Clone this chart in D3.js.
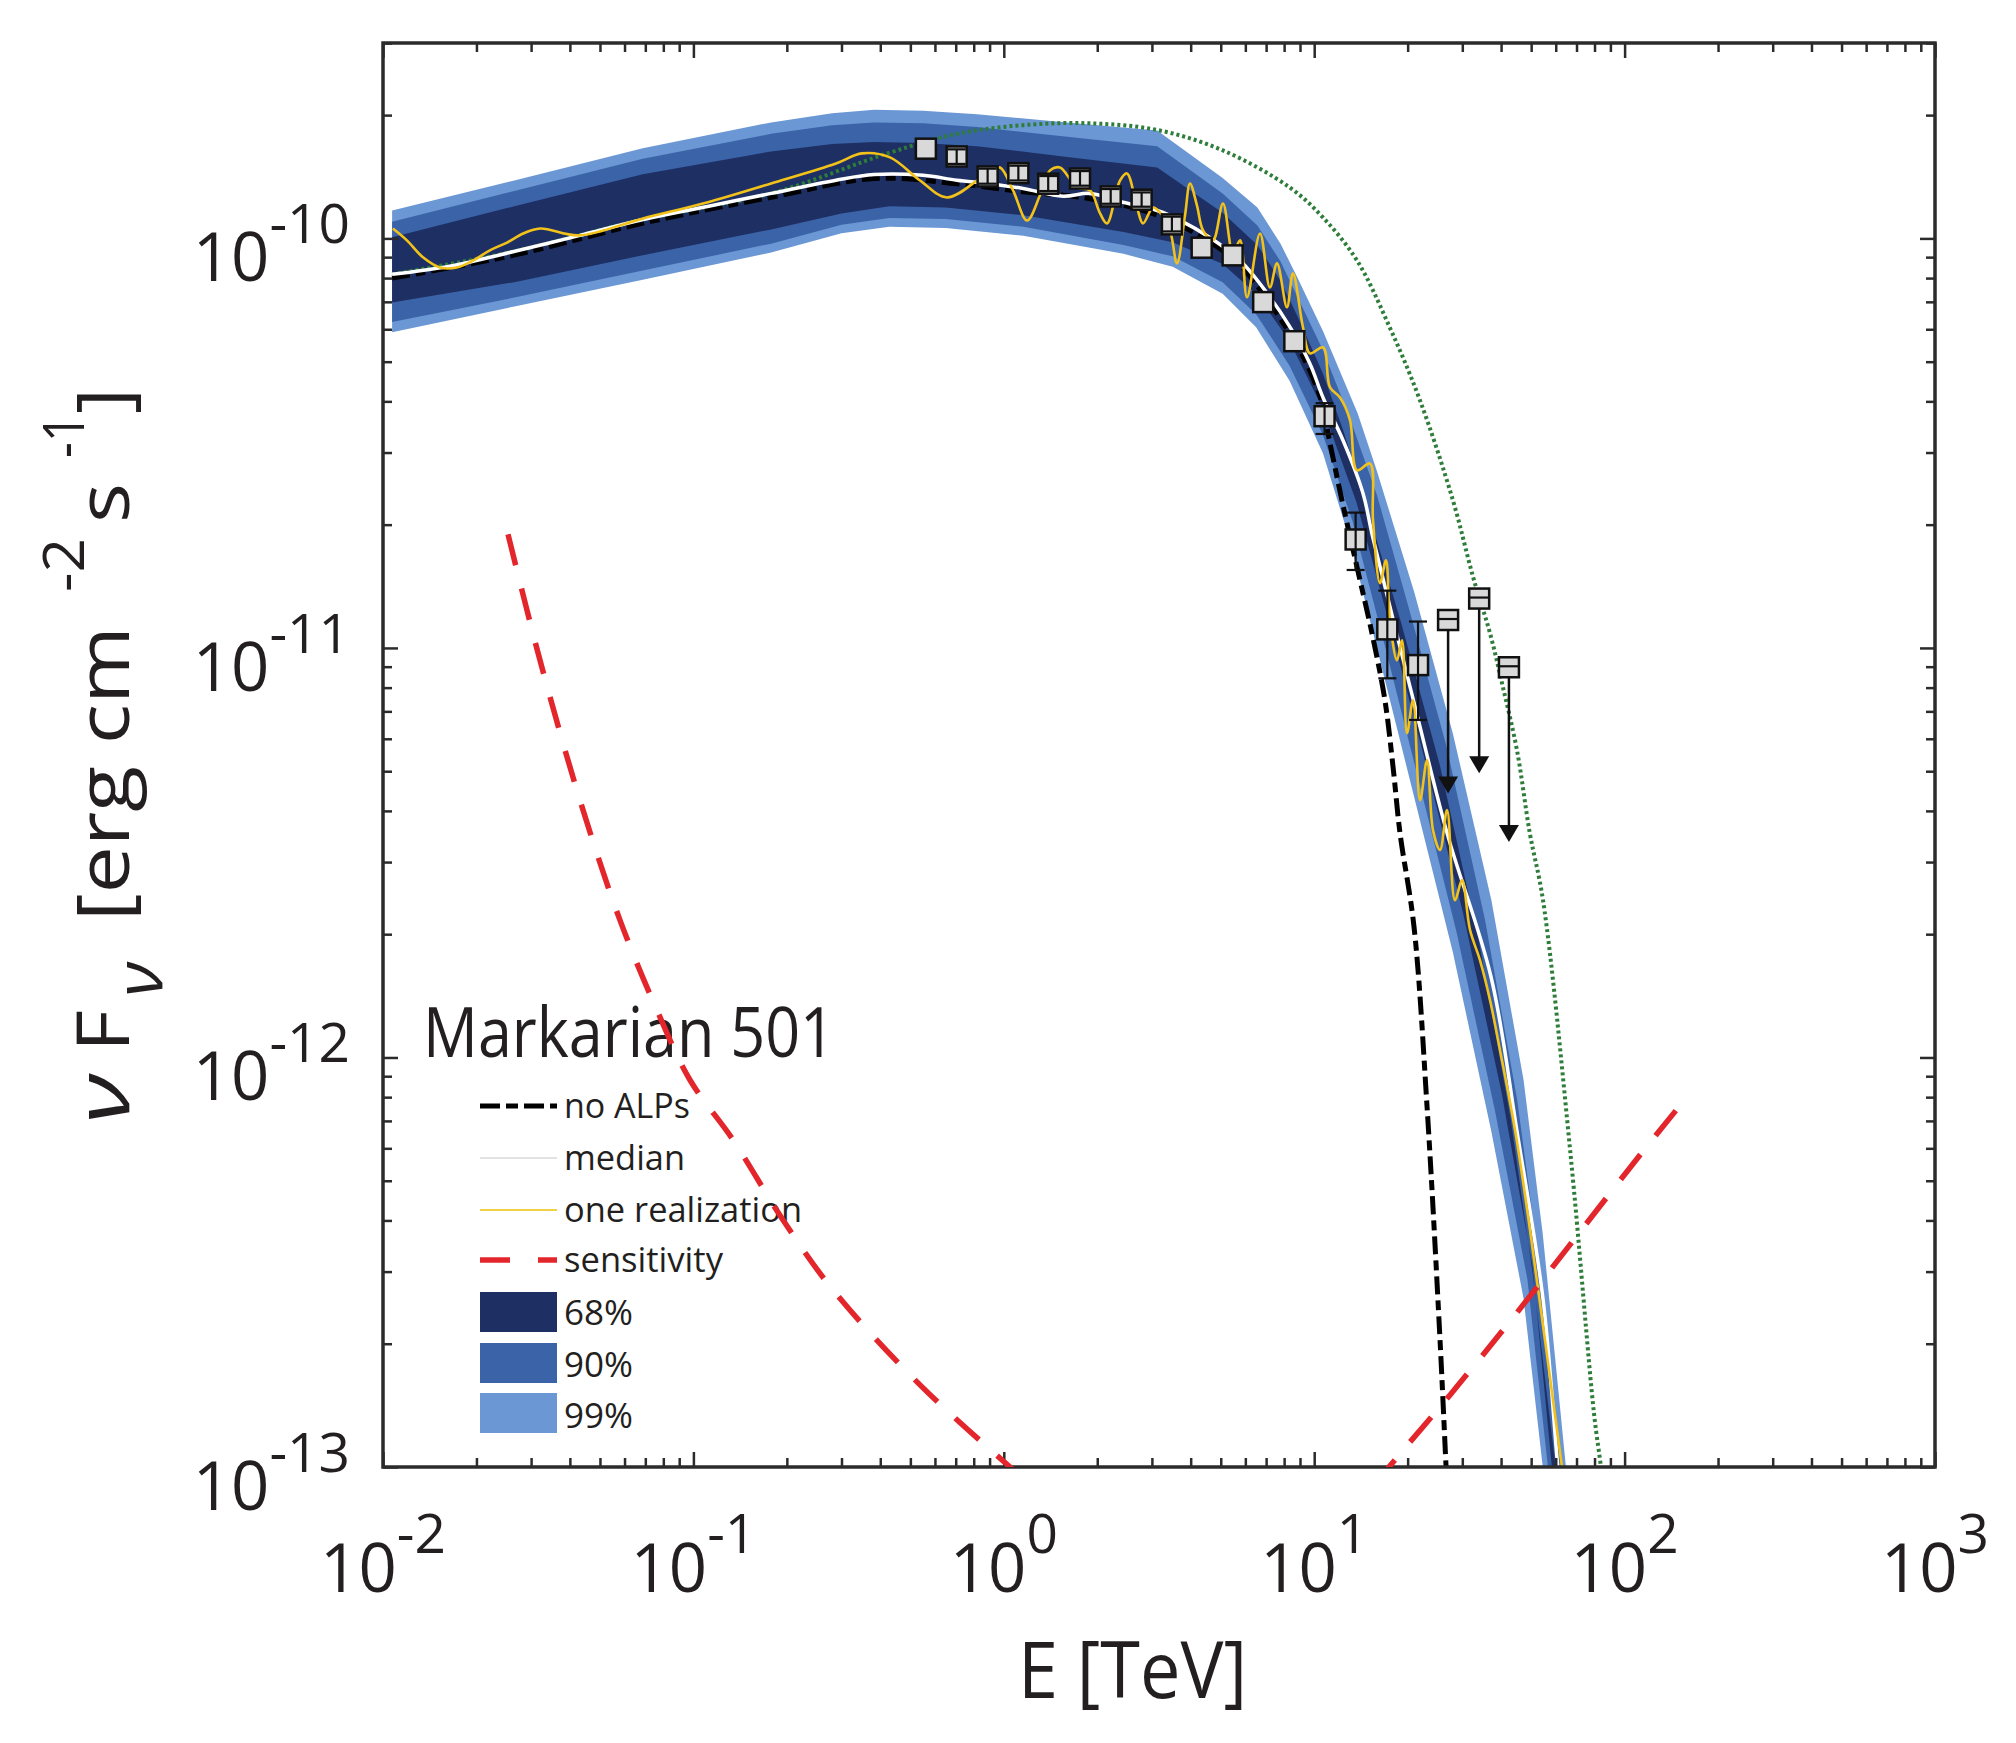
<!DOCTYPE html>
<html>
<head>
<meta charset="utf-8">
<script src="https://cdn.jsdelivr.net/npm/d3@7"></script>
<style>
body { margin: 0; background: #fff; }
svg text { font-family: "Open Sans", "Noto Sans", sans-serif; fill: #231f20; }
</style>
</head>
<body>
<div id="chart"></div>
<script>
// ---- data: [E (TeV), nuFnu (erg cm^-2 s^-1)] ----

// bands of the ALP realizations
var band99Upper = [[0.0107,1.17e-10],[0.0265,1.385e-10],[0.0687,1.66e-10],[0.178,1.92e-10],[0.28,2.02e-10],[0.382,2.06e-10],[0.55,2.05e-10],[0.82,2.01e-10],[1.6,1.92e-10],[3.12,1.835e-10],[5.07,1.405e-10],[6.56,1.19e-10],[7.79,9.71e-11],[8.81,8.05e-11],[10.67,5.94e-11],[13.8,3.74e-11],[15.93,2.70e-11],[21.0,1.37e-11],[27.96,6.19e-12],[37.23,2.42e-12],[47.26,8.81e-13],[54.5,3.70e-13],[61.1,1.555e-13],[64.7,1.0e-13],[65.5,9e-14]];
var band99Lower = [[0.0107,5.90e-11],[0.0265,6.82e-11],[0.0687,7.93e-11],[0.178,9.24e-11],[0.3,1.03e-10],[0.428,1.067e-10],[0.65,1.06e-10],[1.156,1.015e-10],[2.43,9.17e-11],[3.50,8.53e-11],[5.07,7.33e-11],[6.50,6.07e-11],[8.33,4.49e-11],[10.67,2.99e-11],[13.03,1.83e-11],[16.55,8.89e-12],[21.0,4.32e-12],[27.96,1.81e-12],[37.23,6.59e-13],[47.26,2.58e-13],[54.5,1.0e-13],[55,9e-14]];
var band90Upper = [[0.0107,1.098e-10],[0.0265,1.306e-10],[0.0687,1.565e-10],[0.178,1.80e-10],[0.28,1.89e-10],[0.382,1.92e-10],[0.55,1.91e-10],[0.82,1.87e-10],[1.6,1.77e-10],[3.12,1.68e-10],[5.07,1.288e-10],[6.56,1.075e-10],[7.79,8.78e-11],[8.81,7.22e-11],[10.67,5.33e-11],[13.03,3.64e-11],[15.93,2.36e-11],[20.03,1.276e-11],[26.66,5.76e-12],[35.5,2.17e-12],[45.06,7.90e-13],[52.48,3.32e-13],[58.85,1.446e-13],[62.3,1.0e-13],[63,9e-14]];
var band90Lower = [[0.0107,6.25e-11],[0.0265,7.17e-11],[0.0687,8.35e-11],[0.178,9.71e-11],[0.3,1.08e-10],[0.428,1.122e-10],[0.65,1.115e-10],[1.156,1.067e-10],[2.43,9.64e-11],[3.50,9.04e-11],[5.07,7.82e-11],[6.50,6.53e-11],[8.33,4.89e-11],[10.67,3.31e-11],[13.29,2.04e-11],[17.02,9.9e-12],[21.61,4.81e-12],[28.77,2.02e-12],[38.32,7.35e-13],[48.64,2.87e-13],[56.63,1.0e-13],[57,9e-14]];
var band68Upper = [[0.0107,1.007e-10],[0.0265,1.198e-10],[0.0687,1.435e-10],[0.178,1.63e-10],[0.28,1.70e-10],[0.382,1.72e-10],[0.55,1.71e-10],[0.82,1.68e-10],[1.6,1.58e-10],[3.12,1.49e-10],[5.07,1.155e-10],[6.56,9.64e-11],[7.79,7.88e-11],[8.81,6.48e-11],[10.67,4.68e-11],[12.43,3.38e-11],[15.04,2.115e-11],[19.10,1.145e-11],[25.4,5.17e-12],[33.83,1.95e-12],[42.95,7.09e-13],[50.51,2.98e-13],[57.2,1.346e-13],[59.98,1.0e-13],[60.5,9e-14]];
var band68Lower = [[0.0107,6.97e-11],[0.0265,7.82e-11],[0.0687,9.10e-11],[0.178,1.052e-10],[0.3,1.15e-10],[0.428,1.198e-10],[0.65,1.19e-10],[1.156,1.139e-10],[2.43,1.037e-10],[3.50,9.78e-11],[5.07,8.66e-11],[6.50,7.33e-11],[8.33,5.61e-11],[10.67,3.83e-11],[13.68,2.27e-11],[17.69,1.104e-11],[22.67,5.36e-12],[30.18,2.25e-12],[40.18,8.19e-13],[50.51,3.09e-13],[58.3,1.0e-13],[58.6,9e-14]];

// lines
var medianLine = [[0.0107,8.17e-11],[0.0164,8.55e-11],[0.0264,9.29e-11],[0.0428,1.016e-10],[0.0689,1.112e-10],[0.111,1.197e-10],[0.178,1.288e-10],[0.288,1.387e-10],[0.382,1.432e-10],[0.55,1.426e-10],[0.706,1.387e-10],[0.904,1.36e-10],[1.153,1.324e-10],[1.552,1.268e-10],[1.897,1.288e-10],[2.42,1.225e-10],[3.12,1.17e-10],[3.70,1.107e-10],[4.61,1.005e-10],[5.77,8.83e-11],[7.05,7.35e-11],[8.36,6.07e-11],[9.68,4.95e-11],[10.67,4.09e-11],[12.39,3.21e-11],[14.35,2.39e-11],[15.45,1.86e-11],[20.99,7.33e-12],[26.8,3.53e-12],[37.15,1.57e-12],[45.0,6.61e-13],[54.6,2.57e-13],[60.95,1.0e-13],[62,9e-14]];
var noAlpLine = [[0.0107,8.0e-11],[0.0264,9.1e-11],[0.0689,1.09e-10],[0.178,1.26e-10],[0.382,1.40e-10],[0.706,1.36e-10],[1.153,1.30e-10],[1.897,1.25e-10],[3.12,1.14e-10],[4.61,9.8e-11],[5.77,8.6e-11],[7.05,7.1e-11],[8.36,5.85e-11],[9.2,5.15e-11],[10.45,4.1e-11],[11.3,3.1e-11],[12.29,2.29e-11],[13.74,1.574e-11],[15.35,1.086e-11],[16.9,7.45e-12],[17.95,5.12e-12],[18.9,3.53e-12],[20.96,2.09e-12],[23.09,7.61e-13],[25.4,2.08e-13],[26.6,1.0e-13],[26.9,8.5e-14]];
var intrinsicLine = [[0.0107,8.17e-11],[0.0264,9.29e-11],[0.0689,1.112e-10],[0.178,1.288e-10],[0.43,1.62e-10],[0.706,1.80e-10],[1.153,1.89e-10],[1.897,1.91e-10],[3.12,1.84e-10],[5.08,1.64e-10],[8.36,1.33e-10],[10.67,1.125e-10],[13.74,8.83e-11],[17.5,6.07e-11],[21.9,4.03e-11],[28.0,2.29e-11],[32.5,1.49e-11],[36.85,1.086e-11],[40.55,8.02e-12],[45.0,5.63e-12],[49.5,3.53e-12],[54.6,2.42e-12],[67.1,5.71e-13],[79.7,1.35e-13],[83.9,1.0e-13],[85,9e-14]];
var oneRealization = [[0.01076,1.057e-10],[0.01194,9.89e-11],[0.01345,8.99e-11],[0.01527,8.49e-11],[0.0173,8.49e-11],[0.0195,8.83e-11],[0.0221,9.35e-11],[0.0251,9.77e-11],[0.0283,1.028e-10],[0.0321,1.057e-10],[0.0428,1.017e-10],[0.0688,1.119e-10],[0.1106,1.224e-10],[0.178,1.362e-10],[0.288,1.524e-10],[0.349,1.613e-10],[0.43,1.577e-10],[0.537,1.385e-10],[0.656,1.259e-10],[0.82,1.385e-10],[0.903,1.466e-10],[0.972,1.49e-10],[1.071,1.31e-10],[1.188,1.106e-10],[1.308,1.274e-10],[1.409,1.466e-10],[1.517,1.49e-10],[1.721,1.332e-10],[1.895,1.31e-10],[2.042,1.151e-10],[2.15,1.088e-10],[2.368,1.385e-10],[2.494,1.441e-10],[2.687,1.19e-10],[2.809,1.088e-10],[3.025,1.19e-10],[3.186,1.157e-10],[3.431,1.046e-10],[3.614,8.69e-11],[3.835,1.138e-10],[3.98,1.362e-10],[4.19,1.204e-10],[4.384,1.046e-10],[4.72,9.89e-11],[5.083,1.217e-10],[5.475,9.19e-11],[5.77,9.89e-11],[6.075,7.18e-11],[6.69,1.028e-10],[7.20,7.59e-11],[7.59,8.69e-11],[8.17,6.79e-11],[8.54,8.22e-11],[9.20,6.07e-11],[9.69,5.24e-11],[10.68,5.42e-11],[11.24,4.33e-11],[12.11,4.09e-11],[13.04,3.60e-11],[13.74,2.715e-11],[15.13,2.82e-11],[15.47,2.05e-11],[16.29,1.439e-11],[17.03,1.637e-11],[17.54,1.168e-11],[18.48,9.33e-12],[19.18,1.044e-11],[19.91,6.19e-12],[20.81,7.45e-12],[21.93,4.25e-12],[23.09,5.32e-12],[24.14,3.59e-12],[25.43,3.21e-12],[26.79,4.02e-12],[28.42,2.42e-12],[29.94,2.71e-12],[31.76,2.05e-12],[34.2,1.728e-12],[36.85,1.38e-12],[39.68,1.042e-12],[44.36,6.65e-13],[49.58,3.79e-13],[55.4,2.04e-13],[62.84,1.0e-13],[64.3,8.8e-14]];
var sensLow = [[0.02528,1.894e-11],[0.03205,9.33e-12],[0.0431,4.25e-12],[0.058,2.165e-12],[0.0763,1.305e-12],[0.0975,8.81e-13],[0.1342,6.29e-13],[0.1944,4.01e-13],[0.2817,2.705e-13],[0.537,1.587e-13],[1.047,1.0e-13],[1.17,9.3e-14]];
var sensHigh = [[15.70,9.04e-14],[17.42,1.0e-13],[27.39,1.5e-13],[44.36,2.35e-13],[71.8,3.75e-13],[112.1,5.78e-13],[153.1,7.74e-13]];

// measured points
var dataE   = [0.561,0.705,0.887,1.114,1.39,1.76,2.21,2.78,3.48,4.34,5.46,6.85,8.63,10.8,13.6,17.2,21.6];
var dataF   = [1.656e-10,1.585e-10,1.417e-10,1.443e-10,1.36e-10,1.40e-10,1.266e-10,1.243e-10,1.082e-10,9.49e-11,9.09e-11,6.99e-11,5.61e-11,3.68e-11,1.84e-11,1.11e-11,9.08e-12];
var dataFlo = [null,1.52e-10,1.36e-10,1.385e-10,1.305e-10,1.345e-10,1.215e-10,1.195e-10,1.04e-10,null,null,null,null,3.33e-11,1.55e-11,8.43e-12,6.67e-12];
var dataFhi = [null,1.65e-10,1.48e-10,1.505e-10,1.42e-10,1.46e-10,1.32e-10,1.295e-10,1.13e-10,null,null,null,null,3.96e-11,2.14e-11,1.38e-11,1.16e-11];
// upper limits
var ulE   = [27.0, 34.0, 42.4];
var ulF   = [1.17e-11, 1.32e-11, 8.97e-12];
var ulTip = [4.41e-12, 4.94e-12, 3.36e-12];

// axes
var xMajor = [1e-2, 1e-1, 1, 10, 100, 1000];
var xExp = ["-2", "-1", "0", "1", "2", "3"];
var yMajor = [1e-13, 1e-12, 1e-11, 1e-10];
var yExp = ["-13", "-12", "-11", "-10"];

var legendLabels = ["no ALPs", "median", "one realization", "sensitivity"];
var bandLabels = ["68%", "90%", "99%"];
var bandColors = ["#1e3063", "#3b63a8", "#6b97d4"];

// ---- layout ----
var width = 2016, height = 1743;
var L = 383, R = 1935, T = 43, B = 1467;

var svg = d3.select("#chart").append("svg")
    .attr("width", width)
    .attr("height", height);

var x = d3.scaleLog().domain([1e-2, 1e3]).range([L, R]);
var y = d3.scaleLog().domain([1e-13, 3e-10]).range([B, T]);

svg.append("clipPath").attr("id", "plotclip")
  .append("rect").attr("x", L).attr("y", T).attr("width", R - L).attr("height", B - T);

var plot = svg.append("g").attr("clip-path", "url(#plotclip)");

var line = d3.line().x(function(d) { return x(d[0]); }).y(function(d) { return y(d[1]); });
var smooth = d3.line().x(function(d) { return x(d[0]); }).y(function(d) { return y(d[1]); })
    .curve(d3.curveCatmullRom.alpha(0.5));

// bands, outer first
var bands = [[band99Upper, band99Lower, bandColors[2]], [band90Upper, band90Lower, bandColors[1]], [band68Upper, band68Lower, bandColors[0]]];
bands.forEach(function(b) {
    var poly = b[0].concat(b[1].slice().reverse());
    plot.append("path").attr("d", line(poly) + "Z").attr("fill", b[2]).attr("stroke", "none");
});

// intrinsic (green dotted)
plot.append("path").attr("d", smooth(intrinsicLine))
    .attr("fill", "none").attr("stroke", "#2e7d3a").attr("stroke-width", 4)
    .attr("stroke-dasharray", "3,3");

// no ALPs
plot.append("path").attr("d", smooth(noAlpLine))
    .attr("fill", "none").attr("stroke", "#000").attr("stroke-width", 5)
    .attr("stroke-dasharray", "18,6,10,6");

// median
plot.append("path").attr("d", smooth(medianLine))
    .attr("fill", "none").attr("stroke", "#ffffff").attr("stroke-width", 3.5);

// one realization
plot.append("path").attr("d", smooth(oneRealization))
    .attr("fill", "none").attr("stroke", "#f2c21b").attr("stroke-width", 2.6);

// data squares
var sq = 20;
dataE.forEach(function(e, i) {
    plot.append("rect")
        .attr("x", x(e) - sq / 2).attr("y", y(dataF[i]) - sq / 2)
        .attr("width", sq).attr("height", sq)
        .attr("fill", "#d9d9d9").attr("stroke", "#111").attr("stroke-width", 2.5);
});
// error bars on top
dataE.forEach(function(e, i) {
    if (dataFlo[i] == null) return;
    var cx = x(e), y0 = y(dataFlo[i]), y1 = y(dataFhi[i]);
    var g = plot.append("g").attr("stroke", "#111").attr("stroke-width", 2.2);
    g.append("line").attr("x1", cx).attr("x2", cx).attr("y1", y0).attr("y2", y1);
    g.append("line").attr("x1", cx - 9).attr("x2", cx + 9).attr("y1", y0).attr("y2", y0);
    g.append("line").attr("x1", cx - 9).attr("x2", cx + 9).attr("y1", y1).attr("y2", y1);
});

// upper limits
ulE.forEach(function(e, i) {
    var cx = x(e), cy = y(ulF[i]), ty = y(ulTip[i]);
    plot.append("line").attr("x1", cx).attr("x2", cx).attr("y1", cy).attr("y2", ty - 10)
        .attr("stroke", "#111").attr("stroke-width", 2.5);
    plot.append("path")
        .attr("d", "M" + (cx - 10) + "," + (ty - 17) + "L" + (cx + 10) + "," + (ty - 17) + "L" + cx + "," + ty + "Z")
        .attr("fill", "#111");
    plot.append("rect")
        .attr("x", cx - sq / 2).attr("y", cy - sq / 2).attr("width", sq).attr("height", sq)
        .attr("fill", "#d9d9d9").attr("stroke", "#111").attr("stroke-width", 2.5);
    plot.append("line").attr("x1", cx - sq / 2).attr("x2", cx + sq / 2).attr("y1", cy - 1).attr("y2", cy - 1)
        .attr("stroke", "#111").attr("stroke-width", 2.2);
});

// ---- axes (ticks inward on all four sides) ----
var xMinor = [], yMinor = [];
xMajor.slice(0, -1).forEach(function(v) { for (var m = 2; m <= 9; m++) xMinor.push(m * v); });
yMajor.forEach(function(v) { for (var m = 2; m <= 9; m++) if (m * v <= 3e-10) yMinor.push(m * v); });

function styleAxis(g) {
    g.select(".domain").remove();
    g.selectAll(".tick line").attr("stroke", "#2b2b2b").attr("stroke-width", 2.5);
    g.selectAll(".tick text").remove();
}
[[xMinor, 9], [xMajor, 15]].forEach(function(t) {
    svg.append("g").attr("transform", "translate(0," + B + ")")
        .call(d3.axisBottom(x).tickValues(t[0]).tickSize(-t[1]).tickFormat("")).call(styleAxis);
    svg.append("g").attr("transform", "translate(0," + T + ")")
        .call(d3.axisTop(x).tickValues(t[0]).tickSize(-t[1]).tickFormat("")).call(styleAxis);
});
[[yMinor, 9], [yMajor, 15]].forEach(function(t) {
    svg.append("g").attr("transform", "translate(" + L + ",0)")
        .call(d3.axisLeft(y).tickValues(t[0]).tickSize(-t[1]).tickFormat("")).call(styleAxis);
    svg.append("g").attr("transform", "translate(" + R + ",0)")
        .call(d3.axisRight(y).tickValues(t[0]).tickSize(-t[1]).tickFormat("")).call(styleAxis);
});

svg.append("rect").attr("x", L).attr("y", T).attr("width", R - L).attr("height", B - T)
    .attr("fill", "none").attr("stroke", "#2b2b2b").attr("stroke-width", 3.5);

// tick labels
xMajor.forEach(function(v, i) {
    var t = svg.append("text").attr("x", x(v)).attr("y", 1592).attr("text-anchor", "middle")
        .style("font-size", "67px");
    t.append("tspan").text("10");
    t.append("tspan").attr("dy", -39).style("font-size", "55px").text(xExp[i]);
});
yMajor.forEach(function(v, i) {
    var t = svg.append("text").attr("x", 350).attr("y", y(v) + 43).attr("text-anchor", "end")
        .style("font-size", "67px");
    t.append("tspan").text("10");
    t.append("tspan").attr("dy", -38).style("font-size", "55px").text(yExp[i]);
});

// axis titles
svg.append("text").attr("x", 1018).attr("y", 1698)
    .attr("textLength", 229).attr("lengthAdjust", "spacingAndGlyphs")
    .style("font-size", "78px").text("E [TeV]");

// y title, piece by piece along the rotated baseline: [text, start y, end y, baseline x, size, italic]
var yTitleParts = [
    ["\u03bd", 1124, 1074, 129, 76, true],
    ["F", 1052, 1010, 129, 74, false],
    ["\u03bd", 997, 962, 162, 66, true],
    ["[erg cm", 921, 626, 129, 74, false],
    ["-2", 592, 538, 84, 56, false],
    ["s", 523, 483, 129, 74, false],
    ["-1", 458, 414, 84, 56, false],
    ["]", 414, 388, 129, 74, false]
];
yTitleParts.forEach(function(p) {
    svg.append("text")
        .attr("transform", "translate(" + p[3] + "," + p[1] + ") rotate(-90)")
        .attr("textLength", p[1] - p[2]).attr("lengthAdjust", "spacingAndGlyphs")
        .style("font-size", p[4] + "px").style("font-style", p[5] ? "italic" : "normal")
        .text(p[0]);
});

// ---- legend ----
svg.append("text").attr("x", 423).attr("y", 1057)
    .attr("textLength", 412).attr("lengthAdjust", "spacingAndGlyphs")
    .style("font-size", "70px").text("Markarian 501");

var legY = [1118, 1170, 1222, 1272];
var legW = [126, 121, 238, 159];
var legStyle = [
    {stroke: "#000", w: 5, dash: "20,6,12,6"},
    {stroke: "#e2e2e2", w: 2, dash: null},
    {stroke: "#f2d047", w: 2, dash: null},
    {stroke: "#e3262b", w: 5.5, dash: "30,28"}
];
legendLabels.forEach(function(lab, i) {
    var ly = legY[i] - 12;
    var l = svg.append("line").attr("x1", 480).attr("x2", 557).attr("y1", ly).attr("y2", ly)
        .attr("stroke", legStyle[i].stroke).attr("stroke-width", legStyle[i].w);
    if (legStyle[i].dash) l.attr("stroke-dasharray", legStyle[i].dash);
    svg.append("text").attr("x", 564).attr("y", legY[i])
        .attr("textLength", legW[i]).attr("lengthAdjust", "spacingAndGlyphs")
        .style("font-size", "34px").text(lab);
});
var boxY = [1292, 1343, 1393];
var boxTxtY = [1325, 1377, 1428];
bandLabels.forEach(function(lab, i) {
    svg.append("rect").attr("x", 480).attr("y", boxY[i]).attr("width", 77).attr("height", 40)
        .attr("fill", bandColors[i]);
    svg.append("text").attr("x", 564).attr("y", boxTxtY[i])
        .attr("textLength", 69).attr("lengthAdjust", "spacingAndGlyphs")
        .style("font-size", "34px").text(lab);
});

// sensitivity drawn last, over the legend text
var sens = svg.append("g").attr("clip-path", "url(#plotclip)");
[sensLow, sensHigh].forEach(function(s) {
    sens.append("path").attr("d", smooth(s))
        .attr("fill", "none").attr("stroke", "#e3262b").attr("stroke-width", 5.5)
        .attr("stroke-dasharray", "32,24");
});
</script>
</body>
</html>
